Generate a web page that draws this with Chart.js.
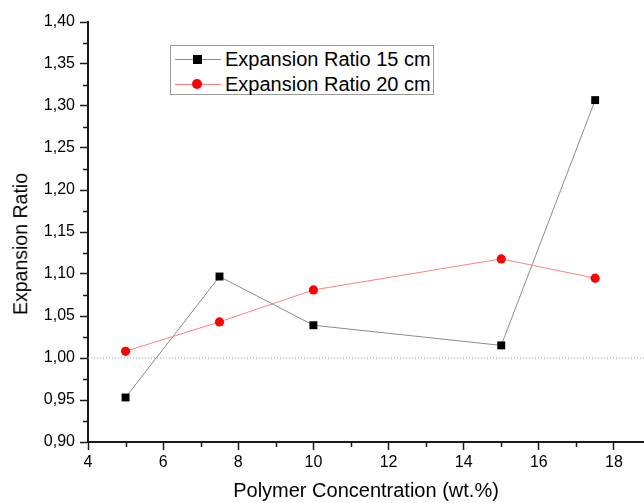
<!DOCTYPE html>
<html>
<head>
<meta charset="utf-8">
<script src="https://cdn.jsdelivr.net/npm/chart.js@4.4.1/dist/chart.umd.min.js"></script>
<style>
  html, body { margin: 0; padding: 0; background: #fff; }
  #wrap { position: relative; width: 644px; height: 503px; overflow: hidden; }
  #legend { position: absolute; left: 170px; top: 45px; width: 262px; height: 48px;
            border: 1px solid #9a9a9a; background: #fff; font-family: "Liberation Sans", Arial, sans-serif; }
  .row { position: absolute; left: 0; height: 24px; width: 100%; }
  .seg { position: absolute; left: 4px; width: 46px; height: 1px; top: 12px; }
  .mk { position: absolute; }
  .txt { position: absolute; left: 54px; top: 1px; font-size: 20px; line-height: 22px; color: #000; white-space: nowrap; }
  #ytitle { position: absolute; left: 20.5px; top: 244px; transform: translate(-50%, -50%) rotate(-90deg);
            font-family: "Liberation Sans", Arial, sans-serif; font-size: 19.5px; line-height: 19.5px;
            color: #000; white-space: nowrap; }
</style>
</head>
<body>
<div id="wrap">
  <canvas id="c" width="644" height="503"></canvas>
  <div id="legend"></div>
  <div id="ytitle"></div>
</div>
<script>
// ---- data ----
const concentration = [5, 7.5, 10, 15, 17.5];
const ratio15cm = [0.953, 1.097, 1.039, 1.015, 1.307];
const ratio20cm = [1.008, 1.043, 1.081, 1.118, 1.095];
const seriesLabels = ["Expansion Ratio 15 cm", "Expansion Ratio 20 cm"];
const xTickValues = [4, 6, 8, 10, 12, 14, 16, 18];
const xMinorTickValues = [5, 7, 9, 11, 13, 15, 17];
const yTickValues = [0.90, 0.95, 1.00, 1.05, 1.10, 1.15, 1.20, 1.25, 1.30, 1.35, 1.40];
const yMinorTickValues = [0.925, 0.975, 1.025, 1.075, 1.125, 1.175, 1.225, 1.275, 1.325, 1.375];
const referenceLevel = [1.00];
const xTitle = "Polymer Concentration (wt.%)";
const yTitle = "Expansion Ratio";

const FONT = '"Liberation Sans", Arial, sans-serif';
const AXIS = '#1a1a1a';

const toPts = (xs, ys) => xs.map((x, i) => ({ x: x, y: ys[i] }));

const minorTicks = {
  id: 'minorTicks',
  afterDraw(chart) {
    const ctx = chart.ctx, xs = chart.scales.x, ys = chart.scales.y;
    ctx.save();
    ctx.strokeStyle = AXIS;
    ctx.lineWidth = 1.5;
    ctx.beginPath();
    xMinorTickValues.forEach(v => {
      const p = Math.round(xs.getPixelForValue(v)) + 0.5;
      ctx.moveTo(p, xs.top); ctx.lineTo(p, xs.top + 5);
    });
    yMinorTickValues.forEach(v => {
      const p = Math.round(ys.getPixelForValue(v)) + 0.5;
      ctx.moveTo(ys.right, p); ctx.lineTo(ys.right - 5, p);
    });
    ctx.stroke();
    ctx.restore();
  }
};

const chart = new Chart(document.getElementById('c'), {
  type: 'line',
  data: {
    datasets: [
      {
        label: seriesLabels[0],
        data: toPts(concentration, ratio15cm),
        borderColor: '#8c8c8c', borderWidth: 1,
        pointStyle: 'rect', pointRadius: 5.6, pointHoverRadius: 5.6,
        pointBackgroundColor: '#000', pointBorderColor: '#000', pointBorderWidth: 0,
        tension: 0, order: 1
      },
      {
        label: seriesLabels[1],
        data: toPts(concentration, ratio20cm),
        borderColor: '#ff8080', borderWidth: 1,
        pointStyle: 'circle', pointRadius: 4.6, pointHoverRadius: 4.6,
        pointBackgroundColor: '#ff0000', pointBorderColor: '#ff0000', pointBorderWidth: 0,
        tension: 0, order: 0
      },
      {
        label: 'ref',
        data: [{ x: 4, y: referenceLevel[0] }, { x: 18.8, y: referenceLevel[0] }],
        borderColor: '#a0a0a0', borderWidth: 1, borderDash: [1, 2],
        pointRadius: 0, order: 2
      }
    ]
  },
  options: {
    responsive: false,
    animation: false,
    events: [],
    layout: { autoPadding: false, padding: { top: 22, left: 0, right: 0, bottom: 0 } },
    plugins: { legend: { display: false }, tooltip: { enabled: false } },
    scales: {
      x: {
        type: 'linear', min: 4, max: 18.8,
        afterBuildTicks: s => { s.ticks = xTickValues.map(v => ({ value: v })); },
        afterFit: s => { s.height = 61; s.paddingLeft = 0; s.paddingRight = 0; },
        grid: { drawOnChartArea: false, drawTicks: true, tickLength: 8, tickColor: AXIS, tickWidth: 1.5 },
        border: { display: true, color: AXIS, width: 2 },
        ticks: { color: '#000', font: { family: FONT, size: 16 }, padding: 3, maxRotation: 0,
                 callback: v => String(v) },
        title: { display: true, text: xTitle, color: '#000', font: { family: FONT, size: 20 },
                 padding: { top: 0, bottom: 0 } }
      },
      y: {
        type: 'linear', min: 0.9, max: 1.4,
        afterBuildTicks: s => { s.ticks = yTickValues.map(v => ({ value: v })); },
        afterFit: s => { s.width = 88; s.paddingTop = 0; s.paddingBottom = 0; },
        grid: { drawOnChartArea: false, drawTicks: true, tickLength: 8, tickColor: AXIS, tickWidth: 1.5 },
        border: { display: true, color: AXIS, width: 2 },
        ticks: { color: '#000', font: { family: FONT, size: 16 }, padding: 5,
                 callback: v => Number(v).toFixed(2).replace('.', ',') },
        title: { display: false }
      }
    }
  },
  plugins: [minorTicks]
});

document.getElementById('ytitle').textContent = yTitle;

// HTML legend built from the datasets
(function buildLegend() {
  const box = document.getElementById('legend');
  chart.data.datasets.slice(0, 2).forEach((ds, i) => {
    const row = document.createElement('div');
    row.className = 'row';
    row.style.top = (i === 0 ? 1 : 26) + 'px';
    const seg = document.createElement('div');
    seg.className = 'seg';
    seg.style.background = ds.borderColor;
    const mk = document.createElement('div');
    mk.className = 'mk';
    if (ds.pointStyle === 'rect') {
      mk.style.cssText = 'left:22px;top:8px;width:9px;height:9px;background:' + ds.pointBackgroundColor;
    } else {
      mk.style.cssText = 'left:21px;top:7px;width:10px;height:10px;border-radius:50%;background:' + ds.pointBackgroundColor;
    }
    const txt = document.createElement('div');
    txt.className = 'txt';
    txt.textContent = ds.label;
    row.appendChild(seg); row.appendChild(mk); row.appendChild(txt);
    box.appendChild(row);
  });
})();
</script>
</body>
</html>
